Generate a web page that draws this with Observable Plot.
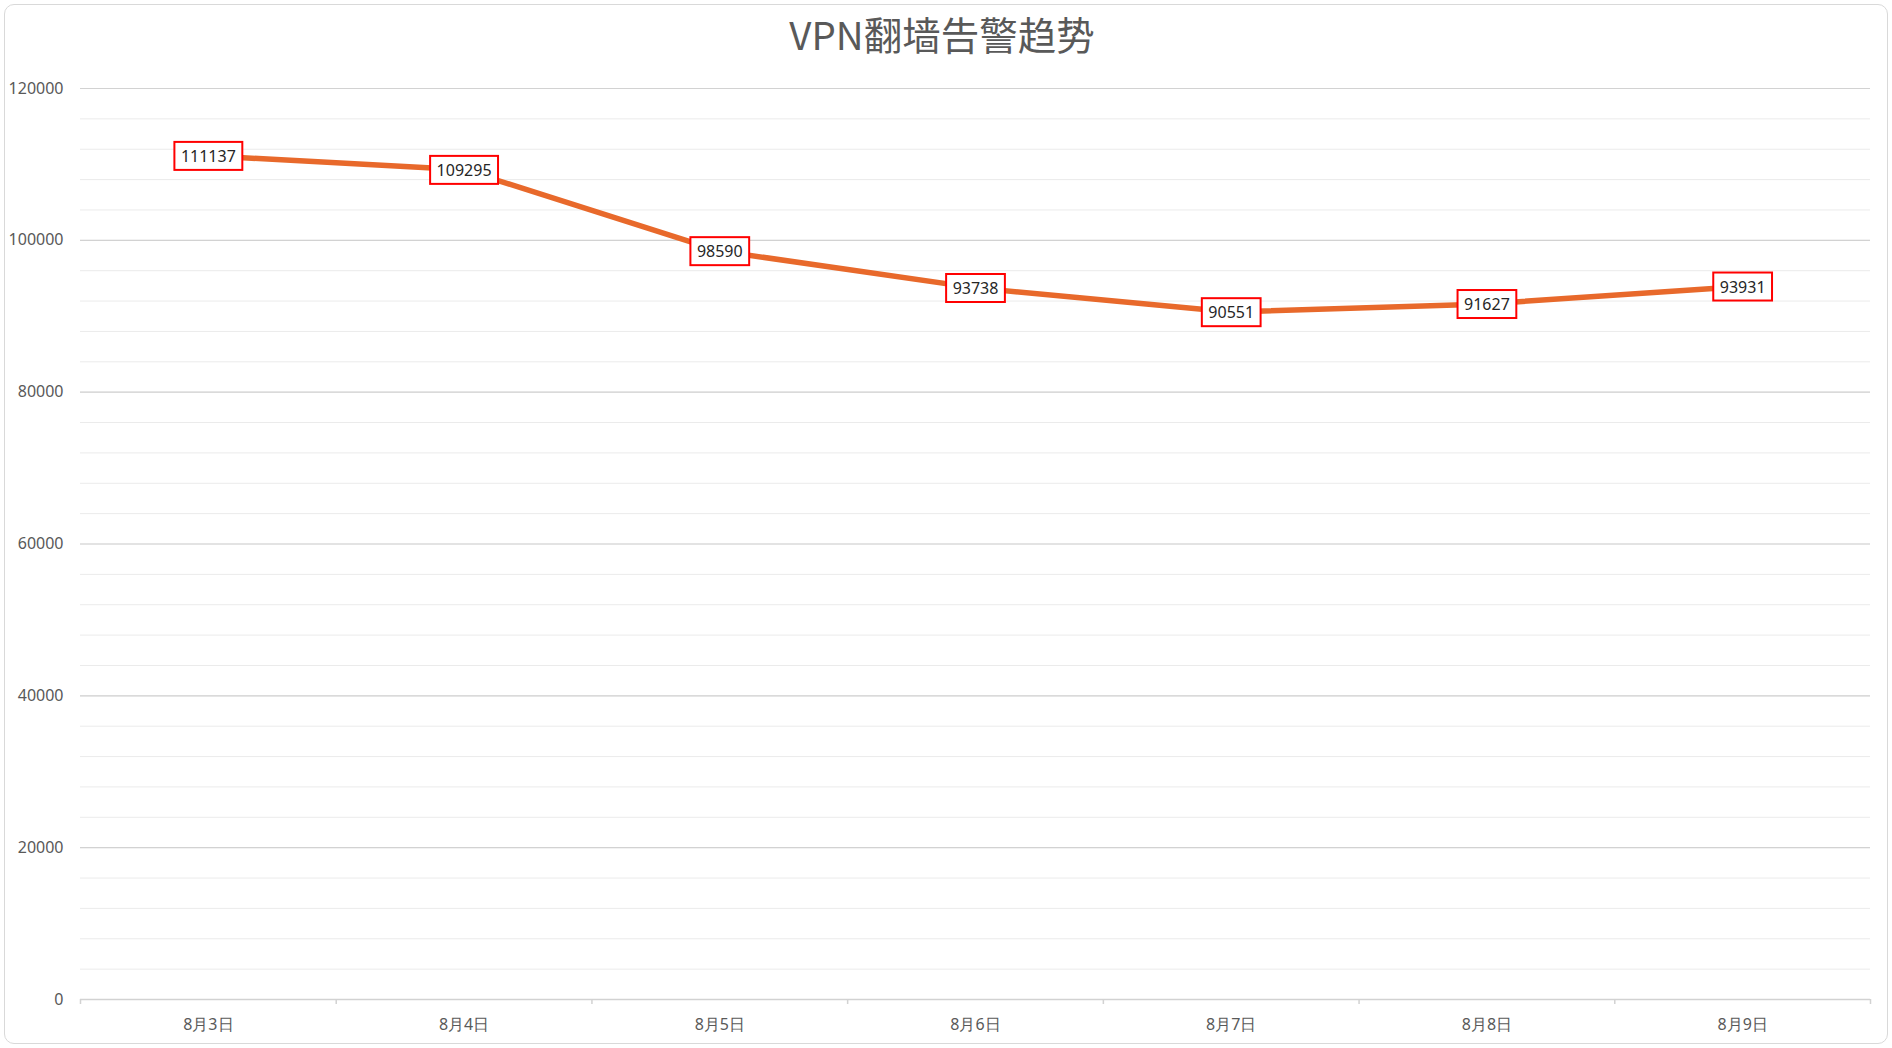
<!DOCTYPE html>
<html>
<head>
<meta charset="utf-8">
<script src="https://cdn.jsdelivr.net/npm/d3@7"></script>
<script src="https://cdn.jsdelivr.net/npm/@observablehq/plot@0.6"></script>
<style>
  body { margin: 0; background: #fff; }
  #wrap { position: relative; width: 1892px; height: 1048px; overflow: hidden; background: #fff; }
  #frame { position: absolute; left: 4px; top: 4px; width: 1884px; height: 1040px; box-sizing: border-box;
           border: 1.5px solid #d9d9d9; border-radius: 10px; }
  #title { position: absolute; left: 0; top: 14px; width: 1884px; text-align: center;
           font-family: "Noto Sans CJK SC", "Noto Sans", sans-serif; font-size: 38.5px; line-height: 38px; color: #595959; }
  #wrap svg { position: absolute; left: 0; top: 0; }
</style>
</head>
<body>
<div id="wrap">
  <div id="frame"></div>
  <div id="title">VPN翻墙告警趋势</div>
</div>
<script>
const categories = ["8月3日", "8月4日", "8月5日", "8月6日", "8月7日", "8月8日", "8月9日"];
const values = [111137, 109295, 98590, 93738, 90551, 91627, 93931];
const yTicks = [0, 20000, 40000, 60000, 80000, 100000, 120000];
const minorTicks = d3.range(0, 120001, 4000);

const data = categories.map((c, i) => ({ c, pos: i + 0.5, v: values[i] }));
const boundaries = d3.range(categories.length + 1);

const plot = Plot.plot({
  width: 1892,
  height: 1048,
  marginLeft: 80,
  marginRight: 22,
  marginTop: 88,
  marginBottom: 49,
  style: { fontFamily: "'Noto Sans', sans-serif", fontSize: "16px", color: "#595959", background: "transparent" },
  x: { type: "linear", domain: [0, categories.length], label: null },
  y: { domain: [0, 120000], label: null },
  marks: [
    Plot.gridY(minorTicks, { stroke: "#ebebeb", strokeOpacity: 1, strokeWidth: 1 }),
    Plot.gridY(yTicks, { stroke: "#d2d2d2", strokeOpacity: 1, strokeWidth: 1.2 }),
    Plot.axisY(yTicks, { tickSize: 0, tickPadding: 17, tickFormat: d => String(d), fill: "#595959", fontSize: 16, label: null }),
    Plot.ruleY([0], { stroke: "#d2d2d2", strokeWidth: 1.5 }),
    Plot.axisX(boundaries, { tickSize: 5, tickFormat: () => "", stroke: "#d2d2d2", strokeWidth: 1.5, label: null }),
    Plot.axisX(data.map(d => d.pos), { tickSize: 0, tickPadding: 19, tickFormat: d => categories[Math.floor(d)], fill: "#595959", fontSize: 16, label: null }),
    Plot.line(data, { x: "pos", y: "v", stroke: "#e8692b", strokeWidth: 5.5, strokeLinejoin: "round", strokeLinecap: "round" }),
    Plot.text(data, { x: "pos", y: "v", dy: 1, text: d => String(d.v), fill: "#262626", fontSize: 16, ariaLabel: () => "data-label" })
  ]
});

document.getElementById("wrap").appendChild(plot);

plot.querySelectorAll('text[aria-label="data-label"]').forEach(t => {
  const b = t.getBBox();
  const r = document.createElementNS("http://www.w3.org/2000/svg", "rect");
  const h = 28;
  r.setAttribute("x", b.x - 6.5);
  r.setAttribute("y", b.y + b.height / 2 - h / 2);
  r.setAttribute("width", b.width + 13);
  r.setAttribute("height", h);
  r.setAttribute("fill", "#ffffff");
  r.setAttribute("stroke", "#ff0000");
  r.setAttribute("stroke-width", 2);
  const tr = t.getAttribute("transform");
  if (tr) r.setAttribute("transform", tr);
  t.parentNode.insertBefore(r, t);
});
</script>
</body>
</html>
